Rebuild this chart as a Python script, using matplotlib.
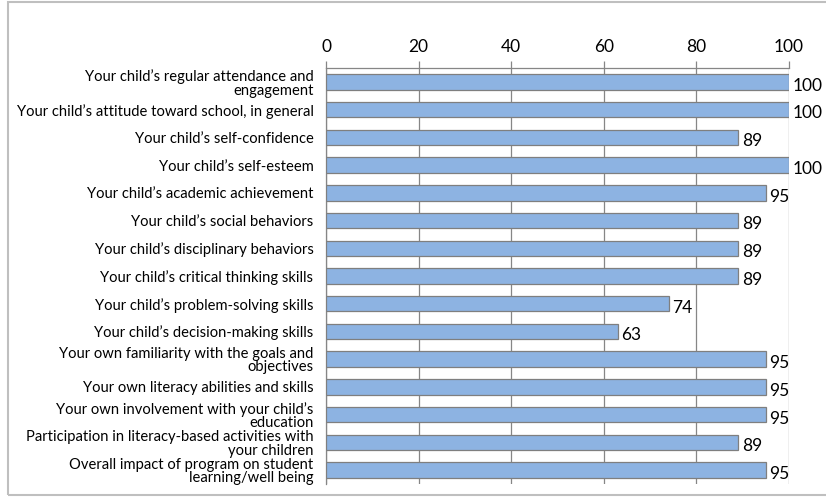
import matplotlib.pyplot as plt
from matplotlib.patches import Rectangle

# survey items, top to bottom
items = [
    "Your child\u2019s regular attendance and\nengagement",
    "Your child\u2019s attitude toward school, in general",
    "Your child\u2019s self-confidence",
    "Your child\u2019s self-esteem",
    "Your child\u2019s academic achievement",
    "Your child\u2019s social behaviors",
    "Your child\u2019s disciplinary behaviors",
    "Your child\u2019s critical thinking skills",
    "Your child\u2019s problem-solving skills",
    "Your child\u2019s decision-making skills",
    "Your own familiarity with the goals and\nobjectives",
    "Your own literacy abilities and skills",
    "Your own involvement with your child\u2019s\neducation",
    "Participation in literacy-based activities with\nyour children",
    "Overall impact of program on student\nlearning/well being",
]
percent = [100, 100, 89, 100, 95, 89, 89, 89, 74, 63, 95, 95, 95, 89, 95]
x_ticks = [0, 20, 40, 60, 80, 100]

plt.rcParams['font.family'] = ['Lato', 'DejaVu Sans']

fig = plt.figure(figsize=(8.26, 4.98), dpi=100)
ax = fig.add_axes([326/826, 1-484/498, (789-326)/826, (484-68)/498])

pos = list(range(len(items)))
ax.barh(pos, percent, height=0.56, color='#8db3e2', edgecolor='#7f7f7f', linewidth=0.9, zorder=3)

for p, v in zip(pos, percent):
    ax.text(v + 0.8, p + 0.14, str(v), va='center', ha='left', fontsize=12.5, color='black', zorder=4)

ax.set_xlim(0, 100)
ax.set_ylim(len(items) - 0.5, -0.5)
ax.set_xticks(x_ticks)
ax.xaxis.tick_top()
ax.tick_params(axis='x', length=5, width=0.9, color='#868686', labelsize=12.5, pad=4)
ax.set_yticks(pos)
ax.set_yticklabels(items, fontsize=10.6, linespacing=0.98)
ax.tick_params(axis='y', length=0, pad=9)

ax.grid(axis='x', color='#868686', linewidth=0.9, zorder=0)
for s in ['right', 'bottom']:
    ax.spines[s].set_visible(False)
for s in ['top', 'left']:
    ax.spines[s].set_color('#868686')
    ax.spines[s].set_linewidth(0.9)

# outer chart border
fig.patches.append(Rectangle((8/826, 3/498), 830/826, 493/498, transform=fig.transFigure,
                             fill=False, edgecolor='#bfbfbf', linewidth=1.5))

fig.savefig('out.png', dpi=100)
